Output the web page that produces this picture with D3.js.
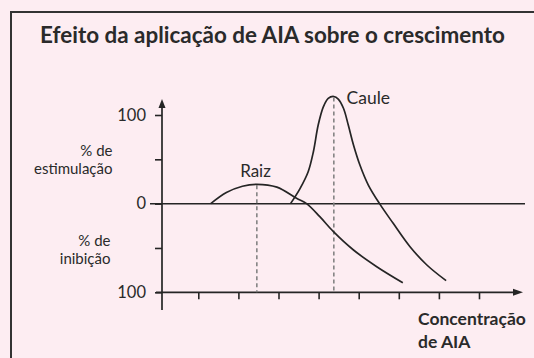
<!DOCTYPE html>
<html>
<head>
<meta charset="utf-8">
<script src="https://cdn.jsdelivr.net/npm/d3@7"></script>
<style>
  html, body { margin: 0; padding: 0; background: #fdedf2; }
  svg { display: block; }
  text { font-family: Lato, "Open Sans", sans-serif; fill: #2a2a2a; }
</style>
</head>
<body>
<svg id="chart" width="534" height="358"></svg>
<script>
// ---- data ----
const title = "Efeito da aplicação de AIA sobre o crescimento";
const xTicks = [1, 2, 3, 4, 5, 6, 7, 8];
const yTicks = [100, 50, 0, -50, -100];
const yTickLabels = ["100", "", "0", "", "100"];
const raizX = [1.31, 1.70, 2.10, 2.46, 2.96, 3.45, 3.70, 4.03, 4.37, 4.87, 5.45, 6.10];
const raizY = [0, 12.5, 19.6, 21.8, 18.6, 6.0, 0, -14.7, -31.6, -52.3, -71.1, -89.2];
const cauleX = [3.30, 3.54, 3.74, 3.87, 3.99, 4.12, 4.24, 4.38, 4.49, 4.62, 4.74, 4.87, 5.03, 5.24, 5.52, 5.86, 6.28, 6.70, 7.18];
const cauleY = [0, 17.3, 36.0, 58.6, 88.7, 109.4, 118.8, 120.9, 118.0, 107.6, 88.7, 66.2, 43.6, 21.0, 0, -22.2, -48.6, -69.2, -86.9];
const raizPeak = { x: 2.46, y: 21.8 };
const caulePeak = { x: 4.38, y: 120.9 };

// ---- drawing ----
const svg = d3.select("#chart");
const ink = "#252525";

// frame
svg.append("rect").attr("x", 0).attr("y", 0).attr("width", 534).attr("height", 358).attr("fill", "#fdedf2");
svg.append("rect").attr("x", 11).attr("y", 12).attr("width", 600).attr("height", 400)
  .attr("fill", "#fdedf2").attr("stroke", "#333").attr("stroke-width", 2);

// title fitted to width
const t = svg.append("text").attr("x", 272.5).attr("y", 43).attr("text-anchor", "middle")
  .attr("font-weight", "bold").attr("font-size", 20).text(title);
const tw = t.node().getComputedTextLength();
t.attr("font-size", 20 * 465 / tw);

const x = d3.scaleLinear().domain([0, 9]).range([158.2, 519.1]);
const y = d3.scaleLinear().domain([-100, 100]).range([292.3, 115]);

// y axis ticks
const yAxis = d3.axisLeft(y).tickValues(yTicks).tickSize(7).tickPadding(9)
  .tickFormat((d, i) => yTickLabels[i]);
const gy = svg.append("g").attr("transform", `translate(${x(0) + 3.8},0)`).call(yAxis);
gy.select(".domain").remove();
gy.selectAll(".tick line").attr("stroke", ink).attr("stroke-width", 1.6);
gy.selectAll(".tick text").attr("font-size", 16.5).attr("font-family", "Lato, 'Open Sans', sans-serif").attr("fill", "#2a2a2a");

// x axis ticks
const xAxis = d3.axisBottom(x).tickValues(xTicks).tickSize(7).tickFormat("");
const gx = svg.append("g").attr("transform", `translate(0,${y(-100)})`).call(xAxis);
gx.select(".domain").remove();
gx.selectAll(".tick line").attr("stroke", ink).attr("stroke-width", 1.6);

const x0 = x(0) + 3.8;
// y axis line + arrow
svg.append("line").attr("x1", x0).attr("x2", x0).attr("y1", 310).attr("y2", 106)
  .attr("stroke", ink).attr("stroke-width", 1.7);
svg.append("path").attr("d", `M${x0},99 L${x0 - 3.5},108 L${x0 + 3.5},108 Z`).attr("fill", ink);
// x axis line + arrow
svg.append("line").attr("x1", 156).attr("x2", 515).attr("y1", y(-100)).attr("y2", y(-100))
  .attr("stroke", ink).attr("stroke-width", 1.7);
svg.append("path").attr("d", `M523,${y(-100)} L513,${y(-100) - 3.5} L513,${y(-100) + 3.5} Z`).attr("fill", ink);
// zero line
svg.append("line").attr("x1", 150).attr("x2", 525).attr("y1", y(0)).attr("y2", y(0))
  .attr("stroke", ink).attr("stroke-width", 1.5);

// dashed guides
[raizPeak, caulePeak].forEach(p => {
  svg.append("line").attr("x1", x(p.x)).attr("x2", x(p.x)).attr("y1", y(p.y) + 1).attr("y2", y(-100))
    .attr("stroke", "#7d7d7d").attr("stroke-width", 1.5).attr("stroke-dasharray", "4,3");
});

// curves
const line = d3.line().x(d => x(d[0])).y(d => y(d[1])).curve(d3.curveCatmullRom.alpha(0.5));
const raiz = raizX.map((v, i) => [v, raizY[i]]);
const caule = cauleX.map((v, i) => [v, cauleY[i]]);
[raiz, caule].forEach(s => {
  svg.append("path").attr("d", line(s)).attr("fill", "none").attr("stroke", ink).attr("stroke-width", 1.7);
});

// labels
svg.append("text").attr("x", 255.5).attr("y", 177).attr("text-anchor", "middle").attr("font-size", 17).text("Raiz");
svg.append("text").attr("x", 346.5).attr("y", 104).attr("font-size", 17.5).text("Caule");

const sideLabels = [
  { lines: ["% de", "estimulação"], xr: 112.5, y0: 156 },
  { lines: ["% de", "inibição"], xr: 110.5, y0: 246 }
];
sideLabels.forEach(l => {
  l.lines.forEach((s, i) => {
    svg.append("text").attr("x", l.xr).attr("y", l.y0 + i * 18).attr("text-anchor", "end")
      .attr("font-size", 15).text(s);
  });
});

svg.append("text").attr("x", 418).attr("y", 325).attr("font-weight", "bold").attr("font-size", 17.5).text("Concentração");
svg.append("text").attr("x", 418).attr("y", 348).attr("font-weight", "bold").attr("font-size", 17.5).text("de AIA");
</script>
</body>
</html>
